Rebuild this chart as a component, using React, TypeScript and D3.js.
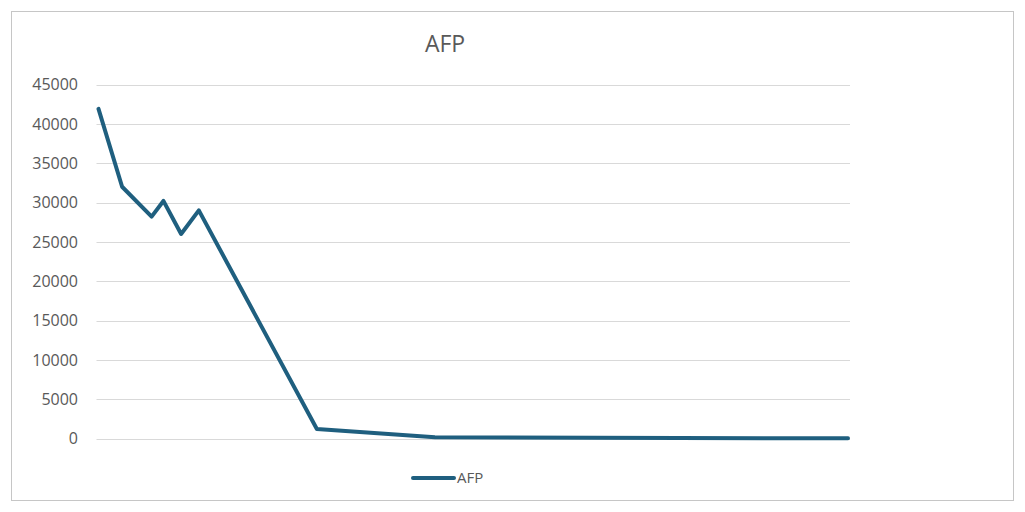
import React from "react";
import * as d3 from "d3";

const days = [0, 4, 9, 11, 14, 17, 37, 57, 127];
const afp = [41900, 32000, 28200, 30200, 26000, 29000, 1200, 150, 20];
const yTicks = [0, 5000, 10000, 15000, 20000, 25000, 30000, 35000, 40000, 45000];
const seriesName = "AFP";
const titleText = "AFP";

export default function App() {
  const W = 1025, H = 512;
  const x = d3.scaleLinear().domain([0, 127]).range([98.5, 848]);
  const y = d3.scaleLinear().domain([0, 45000]).range([438.5, 84.5]);
  const pts = days.map((d, i) => [d, afp[i]] as [number, number]);
  const line = d3.line<[number, number]>().x(d => x(d[0])).y(d => y(d[1]));
  const font = "'Open Sans', 'Noto Sans', sans-serif";
  const color = "#1f5f7f";
  return (
    <svg width={W} height={H} style={{ position: "absolute", left: 0, top: 0 }}>
      <rect x={0} y={0} width={W} height={H} fill="#fff" />
      <rect x={11.5} y={11.5} width={1002} height={489} fill="#fff" stroke="#c6c6c6" strokeWidth={1} />
      <text x={445} y={52} textAnchor="middle" fontFamily={font} fontSize={23} fill="#595959">{titleText}</text>
      {yTicks.map(t => (
        <g key={t}>
          <line x1={96.5} x2={850} y1={Math.round(y(t)) + 0.5} y2={Math.round(y(t)) + 0.5} stroke="#d9d9d9" strokeWidth={1} />
          <text x={78} y={y(t)} dy="0.36em" textAnchor="end" fontFamily={font} fontSize={16} fill="#595959">{t}</text>
        </g>
      ))}
      <path d={line(pts) || ""} fill="none" stroke={color} strokeWidth={4} strokeLinejoin="round" strokeLinecap="round" />
      <line x1={413} x2={454} y1={478} y2={478} stroke={color} strokeWidth={4} strokeLinecap="round" />
      <text x={457} y={478} dy="0.36em" fontFamily={font} fontSize={15} fill="#595959">{seriesName}</text>
    </svg>
  );
}
